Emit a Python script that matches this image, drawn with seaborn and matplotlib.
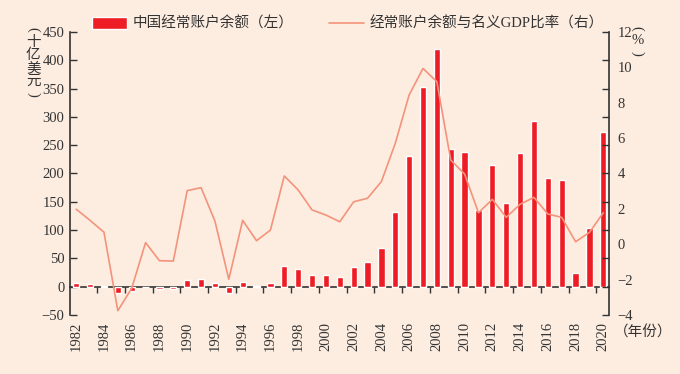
import numpy as np
import pandas as pd
import matplotlib
matplotlib.use("Agg")
import matplotlib.pyplot as plt
import seaborn as sns

# Données : solde du compte courant de la Chine (milliards USD) et ratio au PIB (%)
years = list(range(1982, 2021))
balance = [5.7, 4.2, 2.0, -11.4, -7.0, 0.3, -3.8, -4.3, 12.0, 13.3,
           6.4, -11.9, 7.7, 1.6, 7.2, 37.0, 31.5, 21.1, 20.5, 17.4,
           35.4, 43.1, 68.9, 132.4, 231.8, 353.2, 420.6, 243.3, 237.8, 136.1,
           215.4, 148.2, 236.0, 293.0, 191.3, 188.7, 24.1, 102.9, 274.0]
ratio = [1.98, 1.35, 0.68, -3.76, -2.49, 0.09, -0.93, -0.95, 3.03, 3.2,
         1.31, -1.98, 1.35, 0.2, 0.8, 3.86, 3.07, 1.94, 1.65, 1.27,
         2.4, 2.6, 3.54, 5.7, 8.44, 9.94, 9.19, 4.76, 3.97, 1.78,
         2.54, 1.52, 2.26, 2.65, 1.71, 1.52, 0.14, 0.67, 1.78]
left_ticks = list(range(-50, 451, 50))
right_labels = list(range(-4, 13, 2))

bar_label = "中国经常账户余额（左）"
line_label = "经常账户余额与名义GDP比率（右）"

df = pd.DataFrame({"Year": years, "Balance": balance, "Ratio": ratio})

bg = "#FDEDE0"
bar_color = "#EE1C25"
line_color = "#F4937B"
txt = "#333333"

sns.set_style("white")
plt.rcParams["font.family"] = ["Liberation Serif", "Noto Sans CJK SC", "DejaVu Sans"]
plt.rcParams["axes.unicode_minus"] = True

fig = plt.figure(figsize=(6.8, 3.74), dpi=100, facecolor=bg)
ax = fig.add_axes([0.1029, 0.1578, 0.7927, 0.7566])
ax.set_facecolor(bg)

sns.barplot(data=df, x="Year", y="Balance", native_scale=True, width=0.45,
            color=bar_color, saturation=1, ax=ax, label=bar_label, legend=False)
if ax.get_legend() is not None:
    ax.get_legend().remove()

ax.set_xlim(1981.55, 2020.41)
ax.set_ylim(-50, 450)
ax.set_yticks(left_ticks)
ax.set_xticks(list(range(1982, 2021, 2)))
ax.tick_params(axis="x", length=0, pad=5, labelrotation=90, labelsize=10.5, colors=txt)
ax.tick_params(axis="y", direction="in", length=5, width=1, pad=4, labelsize=10.5,
               colors=txt, left=True)
ax.set_xlabel("")
ax.set_ylabel("")
for s in ["top", "right", "bottom"]:
    ax.spines[s].set_visible(False)
ax.spines["left"].set_color(txt)
ax.spines["left"].set_linewidth(1.2)

# axe des abscisses au niveau zéro
zero_ax = ax.secondary_xaxis(50 / 500)
zero_ax.set_xticks(np.arange(1983.5, 2020, 2))
zero_ax.tick_params(direction="out", length=4, width=1, labelbottom=False, colors=txt)
zero_ax.spines["bottom"].set_color(txt)
zero_ax.spines["bottom"].set_linewidth(1.2)

# axe de droite : ratio au PIB
ax2 = ax.twinx()
sns.lineplot(data=df, x="Year", y="Ratio", color=line_color, linewidth=1.2,
             ax=ax2, label=line_label, legend=False)
ax2.set_ylim(-4, 12)
ax2.set_xlim(1981.55, 2020.41)
ax2.yaxis.remove_overlapping_locs = False
ax2.set_yticks(np.linspace(-4, 12, 11))
ax2.set_yticklabels([])
ax2.set_yticks(right_labels, minor=True)
ax2.set_yticklabels([str(v).replace("-", "\u2212") for v in right_labels], minor=True)
ax2.tick_params(axis="y", which="major", direction="in", length=5, width=1, colors=txt)
ax2.tick_params(axis="y", which="minor", length=0, pad=6, labelsize=10.5, colors=txt)
ax2.set_ylabel("")
for s in ["top", "left", "bottom"]:
    ax2.spines[s].set_visible(False)
ax2.spines["right"].set_color(txt)
ax2.spines["right"].set_linewidth(1.2)

# légende
h1, l1 = ax.get_legend_handles_labels()
h2, l2 = ax2.get_legend_handles_labels()
leg = fig.legend(h1 + h2, l1 + l2, loc="upper left", bbox_to_anchor=(0.135, 0.955),
                 ncol=2, frameon=False, fontsize=10.5, handlelength=2.4,
                 handleheight=0.8, columnspacing=2.4, handletextpad=0.4,
                 borderpad=0, borderaxespad=0)
for t in leg.get_texts():
    t.set_color(txt)

# titres d'axes (écriture verticale, un caractère par ligne, parenthèses tournées)
def vertical_title(x, y_top, step, chars):
    for i, ch in enumerate(chars):
        rot = -90 if ch in "()" else 0
        fig.text(x, y_top - i * step, ch, ha="center", va="center", fontsize=10.5,
                 color=txt, rotation=rot, family=["Liberation Serif", "Noto Sans CJK SC"])

vertical_title(0.049, 0.922, 0.035, ["(", "十", "亿", "美", "元", ")"])
vertical_title(0.937, 0.925, 0.034, ["(", "%", ")"])
fig.text(0.903, 0.11, "（年份）", ha="left", va="center", fontsize=10.5, color=txt,
         family=["Noto Sans CJK SC"])

fig.savefig("out.png", dpi=100, facecolor=bg)
